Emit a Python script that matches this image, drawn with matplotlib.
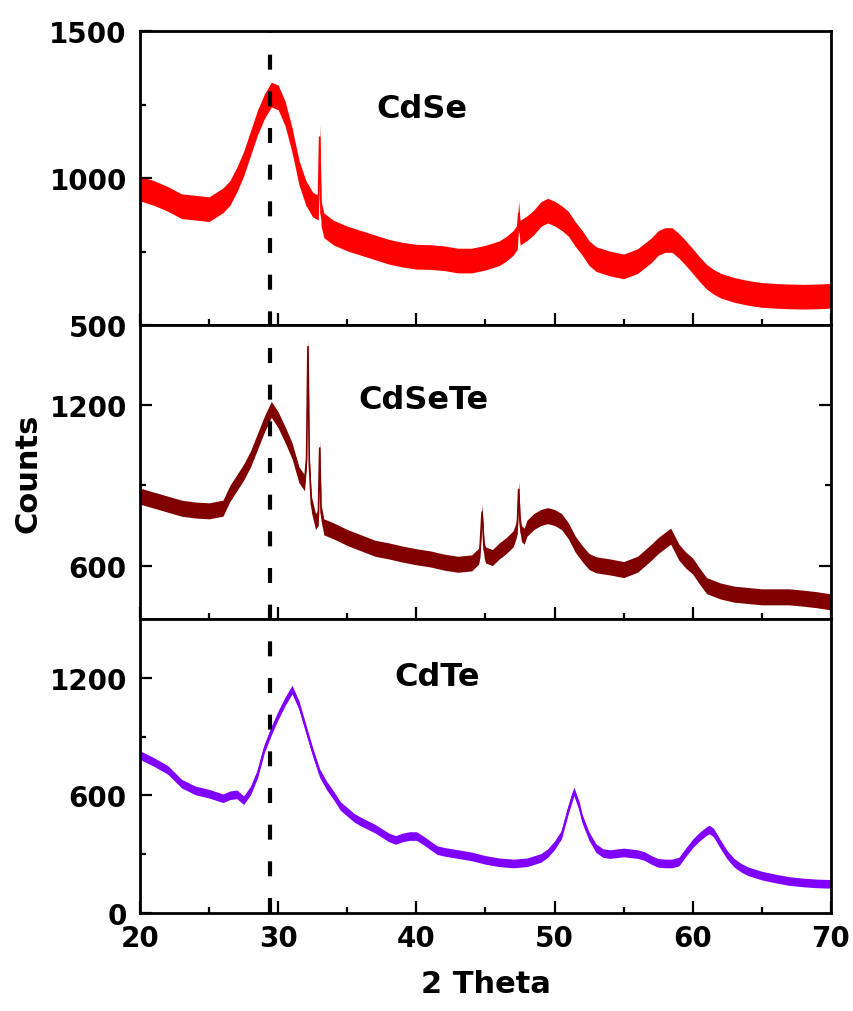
import matplotlib
matplotlib.use('Agg')
import matplotlib.pyplot as plt
import numpy as np
from matplotlib.lines import Line2D
from matplotlib.transforms import blended_transform_factory

plt.rcParams['font.family'] = ['DejaVu Sans']
plt.rcParams['font.weight'] = 'bold'

# XRD patterns (2 theta in degrees, counts)
cdse_tt = [20.0, 21.0, 22.0, 23.0, 24.0, 25.0, 26.0, 26.5, 27.0, 27.5, 28.0, 28.5,
           29.0, 29.5, 30.0, 30.5, 31.0, 31.5, 32.0, 32.5, 32.9, 33.0, 33.1, 33.3,
           34.0, 35.0, 36.0, 37.0, 38.0, 39.0, 40.0, 41.0, 42.0, 43.0, 44.0, 45.0,
           46.0, 46.5, 47.0, 47.3, 47.4, 47.5, 48.0, 48.5, 49.0, 49.5, 50.0, 50.5,
           51.0, 51.5, 52.0, 52.5, 53.0, 54.0, 55.0, 56.0, 57.0, 57.5, 58.0, 58.5,
           59.0, 59.5, 60.0, 60.5, 61.0, 61.5, 62.0, 63.0, 64.0, 65.0, 66.0, 67.0,
           68.0, 69.0, 70.0]
cdse_counts = [965, 950, 930, 905, 900, 895, 925, 950, 995, 1050, 1120, 1190,
               1245, 1285, 1275, 1220, 1130, 1020, 950, 910, 900, 1140, 880, 840,
               815, 795, 780, 765, 750, 740, 733, 732, 728, 720, 720, 730,
               745, 760, 780, 800, 880, 815, 830, 850, 878, 890, 880, 865,
               845, 810, 780, 745, 725, 710, 700, 718, 755, 780, 790, 790,
               770, 745, 718, 690, 665, 648, 635, 620, 610, 603, 600, 598,
               597, 598, 600]

cdsete_tt = [20.0, 21.0, 22.0, 23.0, 24.0, 25.0, 26.0, 26.5, 27.0, 27.5, 28.0, 28.5,
             29.0, 29.5, 30.0, 30.5, 31.0, 31.5, 31.9, 32.05, 32.15, 32.25, 32.4, 32.7,
             32.9, 33.0, 33.1, 33.3, 34.0, 35.0, 36.0, 37.0, 38.0, 39.0, 40.0, 41.0,
             42.0, 43.0, 44.0, 44.5, 44.6, 44.75, 44.9, 45.0, 45.5, 46.0, 46.5, 47.0,
             47.2, 47.3, 47.4, 47.5, 47.6, 47.8, 48.0, 48.5, 49.0, 49.5, 50.0, 50.5,
             51.0, 51.5, 52.0, 52.5, 53.0, 54.0, 55.0, 56.0, 57.0, 57.5, 58.0, 58.4,
             59.0, 59.5, 60.0, 60.5, 61.0, 62.0, 63.0, 64.0, 65.0, 66.0, 67.0, 68.0,
             69.0, 70.0]
cdsete_counts = [860, 845, 830, 815, 808, 805, 815, 870, 910, 950, 1000, 1065,
                 1130, 1185, 1145, 1090, 1030, 940, 910, 1000, 1420, 980, 830, 765,
                 780, 1040, 800, 745, 730, 705, 685, 665, 655, 643, 633, 625,
                 613, 605, 610, 635, 660, 800, 660, 640, 630, 655, 675, 700,
                 730, 750, 885, 760, 720, 710, 740, 765, 780, 787, 780, 765,
                 730, 680, 645, 615, 603, 595, 585, 605, 650, 675, 695, 710,
                 650, 620, 598, 560, 525, 505, 493, 488, 483, 483, 483, 478,
                 472, 464]

cdte_tt = [20.0, 21.0, 22.0, 23.0, 24.0, 25.0, 26.0, 26.5, 27.0, 27.5, 28.0, 28.5,
           29.0, 29.5, 30.0, 30.5, 31.0, 31.5, 32.0, 32.5, 33.0, 33.5, 34.0, 34.5,
           35.0, 35.5, 36.0, 37.0, 38.0, 38.5, 39.0, 39.5, 40.0, 40.5, 41.0, 41.5,
           42.0, 43.0, 44.0, 45.0, 46.0, 47.0, 48.0, 49.0, 49.5, 50.0, 50.5, 51.0,
           51.4, 51.8, 52.0, 52.5, 53.0, 53.5, 54.0, 55.0, 56.0, 56.5, 57.0, 57.5,
           58.0, 58.5, 59.0, 59.5, 60.0, 60.5, 61.0, 61.2, 61.5, 62.0, 62.5, 63.0,
           63.5, 64.0, 65.0, 66.0, 67.0, 68.0, 69.0, 70.0]
cdte_counts = [805, 770, 730, 660, 625, 608, 585, 600, 605, 575, 625, 710,
               840, 930, 1010, 1080, 1140, 1060, 940, 820, 713, 650, 600, 545,
               515, 485, 465, 430, 385, 372, 385, 392, 392, 370, 345, 320,
               312, 300, 288, 270, 258, 252, 258, 280, 305, 345, 400, 530,
               620, 540, 480, 390, 330, 305, 300, 308, 300, 290, 270, 255,
               252, 252, 262, 310, 355, 390, 418, 425, 410, 350, 295, 255,
               230, 212, 190, 175, 162, 155, 150, 148]

samples = ['CdSe', 'CdSeTe', 'CdTe']
series_tt = [cdse_tt, cdsete_tt, cdte_tt]
series_counts = [cdse_counts, cdsete_counts, cdte_counts]
colors = ['#ff0000', '#800000', '#8000ff']
noise = [42, 30, 22]  # half-width of the noisy trace, counts

y_limits = [(500, 1500), (400, 1500), (0, 1500)]
y_major = [[500, 1000, 1500], [600, 1200], [0, 600, 1200]]
y_minor = [[750, 1250], [900], [300, 900]]
label_pos = [(40.4, 1236), (40.5, 1220), (41.5, 1208)]

ref_line = 29.4

fig, axes = plt.subplots(3, 1, sharex=True, figsize=(8.54, 10.12), dpi=100)
fig.subplots_adjust(left=0.164, right=0.973, top=0.968, bottom=0.097, hspace=0)

for i, ax in enumerate(axes):
    tt = np.array(series_tt[i])
    counts = np.array(series_counts[i])
    ax.fill_between(tt, counts - noise[i], counts + noise[i],
                    color=colors[i], linewidth=0)
    ax.plot(tt, counts, color=colors[i], lw=1.2)

    ax.set_xlim(20, 70)
    ax.set_ylim(*y_limits[i])
    ax.set_xticks([20, 30, 40, 50, 60, 70])
    ax.set_xticks([25, 35, 45, 55, 65], minor=True)
    ax.set_yticks(y_major[i])
    ax.set_yticks(y_minor[i], minor=True)

    ax.tick_params(axis='both', which='both', direction='in', width=1.6,
                   labelsize=20)
    ax.tick_params(which='major', length=8.5)
    ax.tick_params(which='minor', length=4.5)
    ax.tick_params(axis='y', pad=9.5)
    ax.tick_params(axis='x', pad=8)
    if i == 1:
        ax.tick_params(axis='y', which='both', right=True)
    if i < 2:
        ax.tick_params(axis='x', which='both', labelbottom=False)

    for sp in ax.spines.values():
        sp.set_linewidth(2.0)

    ax.text(label_pos[i][0], label_pos[i][1], samples[i], fontsize=23,
            fontweight='bold', ha='center', va='center')

axes[1].set_ylabel('Counts', fontsize=22, fontweight='bold', labelpad=5)
axes[2].set_xlabel('2 Theta', fontsize=22, fontweight='bold', labelpad=12)

# dashed reference line through all three panels
trans = blended_transform_factory(axes[2].transData, fig.transFigure)
fig.add_artist(Line2D([ref_line, ref_line], [0.097, 0.968], transform=trans,
                      color='black', lw=3, linestyle=(0, (3.6, 5.2)), zorder=10))

fig.savefig('out.png', dpi=100)
